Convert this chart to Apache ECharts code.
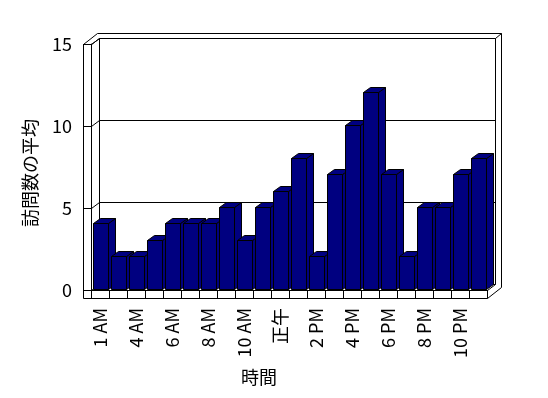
<!DOCTYPE html>
<html>
<head>
<meta charset="utf-8">
<script src="https://cdn.jsdelivr.net/npm/echarts@6/dist/echarts.min.js"></script>
<style>html,body{margin:0;padding:0;background:#fff}#c{width:548px;height:398px}</style>
</head>
<body>
<div id="c"></div>
<script>
const categories = ['1 AM','3 AM','4 AM','5 AM','6 AM','7 AM','8 AM','9 AM','10 AM','11 AM','正午','1 PM','2 PM','3 PM','4 PM','5 PM','6 PM','7 PM','8 PM','9 PM','10 PM','11 PM'];
const values = [4,2,2,3,4,4,4,5,3,5,6,8,2,7,10,12,7,2,5,5,7,8];
const yTicks = [0,5,10,15];
const yTitle = '訪問数の平均';
const xTitle = '時間';

const FONT = 'Noto Sans CJK JP';
const r = v => Math.round(v) + 0.5;
const lineStyle = {stroke:'#000', lineWidth:1, fill:null};

function line(a, b) {
  return {type:'line', shape:{x1:r(a[0]), y1:r(a[1]), x2:r(b[0]), y2:r(b[1])}, style:lineStyle, silent:true};
}
function poly(pts) {
  return {type:'polyline', shape:{points:pts.map(p=>[r(p[0]), r(p[1])])}, style:lineStyle, silent:true};
}

function renderFrame(params, api) {
  const band = api.size([1,0])[0];
  const xL = api.coord([0,0])[0] - band/2;
  const xR = api.coord([categories.length-1,0])[0] + band/2;
  const yB = api.coord([0, yTicks[0]])[1];
  const yT = api.coord([0, yTicks[yTicks.length-1]])[1];
  const dx = 8, dy = -6, Dx = 14, Dy = -11, wall = 8, floor = 8;
  const ch = [];
  ch.push(poly([[xL-wall, yB+floor],[xL-wall, yT],[xL-wall+Dx, yT+Dy],[xR+Dx, yT+Dy],[xR+Dx, yB+floor+Dy],[xR, yB+floor],[xL-wall, yB+floor]]));
  ch.push(line([xL, yT],[xL+dx, yT+dy]));
  ch.push(poly([[xL+dx, yB+dy],[xL+dx, yT+dy],[xR+dx, yT+dy],[xR+dx, yB+dy]]));
  ch.push(line([xR+dx, yT+dy],[xR+Dx, yT+Dy]));
  yTicks.forEach(v => {
    const y = api.coord([0, v])[1];
    ch.push(line([xL, y],[xL+dx, y+dy]));
    ch.push(line([xL+dx, y+dy],[xR+dx, y+dy]));
  });
  ch.push(line([xR, yB],[xR+dx, yB+dy]));
  ch.push(line([xR, yB],[xR, yB+floor]));
  return {type:'group', children:ch};
}

function renderBar(params, api) {
  const i = api.value(0), v = api.value(1);
  const top = api.coord([i, v]);
  const base = api.coord([i, 0]);
  const band = api.size([1,0])[0];
  const x1 = Math.round(top[0] - band*0.39) + 0.5;
  const x2 = Math.round(top[0] + band*0.43) + 0.5;
  const yT = Math.round(top[1]) - 1 + 0.5;
  const yB = Math.round(base[1]) - 1 + 0.5;
  const dx = 7, dy = -5;
  const st = {fill:'#000080', stroke:'#000', lineWidth:1};
  return {type:'group', children:[
    {type:'polygon', shape:{points:[[x2,yT],[x2+dx,yT+dy],[x2+dx,yB+dy],[x2,yB]]}, style:st},
    {type:'polygon', shape:{points:[[x1,yT],[x1+dx,yT+dy],[x2+dx,yT+dy],[x2,yT]]}, style:st},
    {type:'rect', shape:{x:x1, y:yT, width:x2-x1, height:yB-yT}, style:st}
  ]};
}

const chart = echarts.init(document.getElementById('c'), null, {renderer:'canvas'});
chart.setOption({
  animation:false,
  backgroundColor:'#fff',
  textStyle:{fontFamily:FONT},
  grid:{left:91, right:61, top:44, bottom:108, containLabel:false},
  xAxis:{
    type:'category', data:categories, boundaryGap:true,
    axisLine:{show:true, lineStyle:{color:'#000', width:1}},
    axisTick:{show:true, interval:0, length:8, inside:false, lineStyle:{color:'#000'}},
    axisLabel:{interval:1, rotate:90, margin:18, color:'#000', fontSize:18, fontFamily:FONT},
    splitLine:{show:false}
  },
  yAxis:{
    type:'value', min:yTicks[0], max:yTicks[yTicks.length-1], interval:yTicks[1]-yTicks[0],
    axisLine:{show:true, lineStyle:{color:'#000', width:1}},
    axisTick:{show:true, length:8, inside:false, lineStyle:{color:'#000'}},
    axisLabel:{margin:19, color:'#000', fontSize:18, fontFamily:FONT},
    splitLine:{show:false}
  },
  graphic:[
    {type:'text', x:30, y:173, rotation:Math.PI/2, style:{text:yTitle, fill:'#000', font:'18px "Noto Sans CJK JP"', textAlign:'center', textVerticalAlign:'middle', verticalAlign:'middle'}},
    {type:'text', x:259, y:377, style:{text:xTitle, fill:'#000', font:'18px "Noto Sans CJK JP"', textAlign:'center', textVerticalAlign:'middle', verticalAlign:'middle'}}
  ],
  series:[
    {type:'custom', name:'frame', renderItem:renderFrame, data:[[0,0]], silent:true, z:1},
    {type:'custom', name:'訪問数の平均', renderItem:renderBar, data:values.map((v,i)=>[i,v]), encode:{x:0,y:1}, z:2}
  ]
});
</script>
</body>
</html>
